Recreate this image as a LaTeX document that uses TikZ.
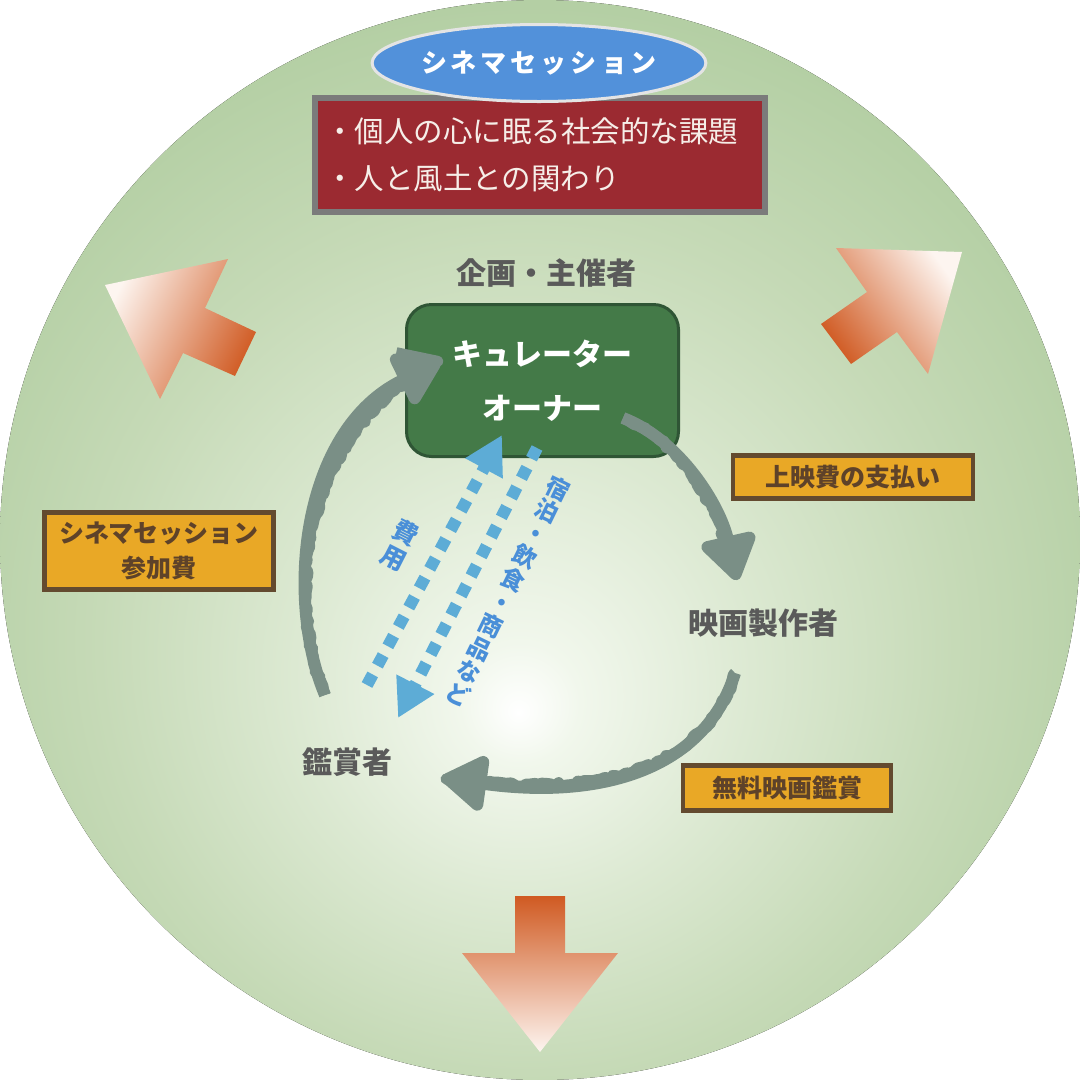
\documentclass[tikz,border=0pt]{standalone}
\usepackage{fontspec}
\newfontfamily\jp{Noto Sans CJK JP}
\usetikzlibrary{shapes.geometric,arrows.meta,decorations.pathmorphing}
\definecolor{bg0}{HTML}{FFFFFF}
\definecolor{bg1}{HTML}{F1F7EC}
\definecolor{bg2}{HTML}{DCE9D2}
\definecolor{bg3}{HTML}{C6DAB7}
\definecolor{bg4}{HTML}{B4CFA4}
\definecolor{bg5}{HTML}{A9C796}
\definecolor{ellfill}{HTML}{5291DA}
\definecolor{ellline}{HTML}{E4E4E4}
\definecolor{redfill}{HTML}{9B2A31}
\definecolor{redline}{HTML}{7B7B7B}
\definecolor{redtext}{HTML}{F6EEE8}
\definecolor{labelgray}{HTML}{5A5A5A}
\definecolor{boxgreen}{HTML}{447A48}
\definecolor{boxgreenline}{HTML}{2F5535}
\definecolor{orfill}{HTML}{E9A826}
\definecolor{orline}{HTML}{634A2F}
\definecolor{ortext}{HTML}{5E4229}
\definecolor{chalk}{HTML}{7A8F86}
\definecolor{dotblue}{HTML}{5DACD6}
\definecolor{bluetxt}{HTML}{4A8FD8}
\definecolor{arrdark}{HTML}{D05A22}
\definecolor{arrlight}{HTML}{FDF5F0}
\pgfdeclareradialshading{bgshade}{\pgfpoint{-1bp}{-8bp}}{color(0bp)=(bg0); color(2.8bp)=(bg1); color(10.6bp)=(bg2); color(19.8bp)=(bg3); color(28.3bp)=(bg4); color(35.4bp)=(bg5); color(50bp)=(bg5)}
\begin{document}
\begin{tikzpicture}[x=1pt,y=-1pt,
  graylabel/.style={font=\jp\bfseries\fontsize{30}{36}\selectfont, text=labelgray, inner sep=0pt},
  orbox/.style={draw=orline, line width=4.5pt, fill=orfill, text=ortext, font=\jp\bfseries\fontsize{25}{35}\selectfont, align=center, inner sep=0pt},
  chalkarrow/.style={draw=chalk, line width=12pt, -{Triangle[width=62pt,length=50pt,round]}},
  chalkrough/.style={draw=chalk, line width=11pt, line join=round, shorten >=45pt,
     decorate, decoration={random steps, segment length=4pt, amplitude=1.8pt}},
  dotarrow/.style={draw=dotblue, line width=12pt, dash pattern=on 12pt off 10pt, -{Triangle[width=40pt,length=38pt]}},
  bluetext/.style={text=bluetxt, font=\jp\bfseries\fontsize{23.5}{25.5}\selectfont, align=center, inner sep=0pt},
  bigarrow/.style={draw=none}
]
\useasboundingbox (0,0) rectangle (1080,1080);
\fill[white] (0,0) rectangle (1080,1080);
\fill[shading=bgshade] (540,540) circle[radius=540];

% orange gradient arrows
\path[bigarrow, top color=arrlight, bottom color=arrdark, shading angle=64]
  (105,285) -- (228,259) -- (205,308) -- (256,332) -- (235,376) -- (183,353) -- (160,399) -- cycle;
\path[bigarrow, top color=arrlight, bottom color=arrdark, shading angle=-54]
  (962,252) -- (928,374) -- (897,332) -- (851,364) -- (821,324) -- (867,292) -- (836,248) -- cycle;
\path[bigarrow, top color=arrdark, bottom color=arrlight]
  (515,896) -- (565,896) -- (565,953) -- (618,953) -- (540,1052) -- (462,953) -- (515,953) -- cycle;

% top title
\node[draw=redline, line width=6pt, fill=redfill, minimum width=450pt, minimum height=114pt,
      text width=430pt, inner xsep=10pt, align=left, text=redtext,
      font=\jp\fontsize{29.5}{47}\selectfont] (topics) at (540,155)
  {・個人の心に眠る社会的な課題\\・人と風土との関わり};
\node[ellipse, draw=ellline, line width=3pt, fill=ellfill, minimum width=302pt, minimum height=77pt,
      inner sep=0pt, text=white, font=\jp\bfseries\fontsize{26}{30}\selectfont] (title) at (539,63)
  {シ\kern4ptネ\kern4ptマ\kern4ptセ\kern4ptッ\kern4ptシ\kern4ptョ\kern4ptン};

% labels
\node[graylabel] (organizer) at (546,273) {企画・主催者};
\node[draw=boxgreenline, line width=3pt, fill=boxgreen, rounded corners=25pt,
      minimum width=272pt, minimum height=152pt, align=center, text=white, inner sep=0pt,
      font=\jp\bfseries\fontsize{30}{54}\selectfont] (curator) at (542.5,380.5)
  {キュレーター\\オーナー};
\node[graylabel] (filmmaker) at (763,623) {映画製作者};
\node[graylabel] (viewer) at (347,762) {鑑賞者};

% orange label boxes
\node[orbox, minimum width=240pt, minimum height=43pt] (payfee) at (853,477) {上映費の支払い};
\node[orbox, minimum width=208pt, minimum height=45pt] (freeview) at (787,788) {無料映画鑑賞};
\node[orbox, minimum width=229pt, minimum height=77pt] (joinfee) at (159,551) {シネマセッション\\参加費};

% chalk connectors
\coordinate (c1s) at (325,695);
\coordinate (c1e) at (440,362);
\coordinate (c2s) at (623,418);
\coordinate (c2e) at (737,580);
\coordinate (c3s) at (735,673);
\coordinate (c3e) at (442,778);
\draw[chalkarrow] (c1s) .. controls (285,600) and (300,430) .. (c1e);
\draw[chalkarrow] (c2s) .. controls (680,440) and (720,505) .. (c2e);
\draw[chalkarrow] (c3s) .. controls (705,770) and (600,800) .. (c3e);
\draw[chalkrough] (c1s) .. controls (285,600) and (300,430) .. (c1e);
\draw[chalkrough] (c2s) .. controls (680,440) and (720,505) .. (c2e);
\draw[chalkrough] (c3s) .. controls (705,770) and (600,800) .. (c3e);

% blue dotted connectors
\coordinate (b1s) at (367,685);
\coordinate (b1e) at (502,435);
\coordinate (b2s) at (537,448);
\coordinate (b2e) at (398,718);
\draw[dotarrow] (b1s) -- (b1e);
\draw[dotarrow] (b2s) -- (b2e);

\node[bluetext, rotate=-27, font=\jp\bfseries\fontsize{25}{28}\selectfont] (costlbl) at (400,545) {費\\用};
\node[bluetext, rotate=-26] (goodslbl) at (508,591) {宿\\泊\\・\\飲\\食\\・\\商\\品\\な\\ど};
\end{tikzpicture}
\end{document}
